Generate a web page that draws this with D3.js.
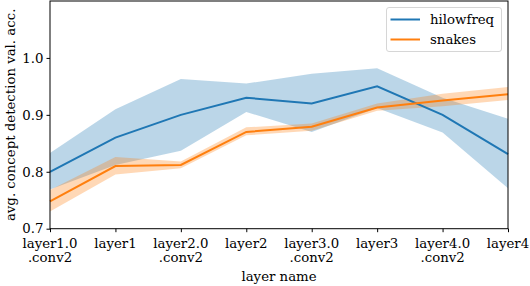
<!DOCTYPE html>
<html><head><meta charset="utf-8">
<script src="https://cdn.jsdelivr.net/npm/d3@7"></script>
<style>body{margin:0;background:#fff}svg{display:block}text{font-family:"DejaVu Serif",serif}</style>
</head><body><svg id="c" width="530" height="286"></svg>
<script>
const categories = ["layer1.0\n.conv2","layer1","layer2.0\n.conv2","layer2","layer3.0\n.conv2","layer3","layer4.0\n.conv2","layer4"];
const hilowfreq      = [0.800, 0.860, 0.900, 0.930, 0.920, 0.950, 0.900, 0.831];
const hilowfreqLower = [0.769, 0.812, 0.837, 0.905, 0.870, 0.912, 0.869, 0.771];
const hilowfreqUpper = [0.833, 0.910, 0.963, 0.955, 0.972, 0.982, 0.930, 0.893];
const snakes      = [0.748, 0.810, 0.812, 0.870, 0.879, 0.913, 0.925, 0.936];
const snakesLower = [0.730, 0.795, 0.806, 0.864, 0.872, 0.907, 0.915, 0.926];
const snakesUpper = [0.768, 0.826, 0.818, 0.878, 0.885, 0.920, 0.937, 0.949];
const yTicks = [0.7, 0.8, 0.9, 1.0];
const seriesNames = ["hilowfreq","snakes"];
const colors = ["#1f77b4","#ff7f0e"];

const FS = 13.3;
const svg = d3.select("#c");
const L=50, R=508, T=1, B=228.7;
const x = d3.scalePoint().domain(d3.range(categories.length)).range([L,R]);
const y = d3.scaleLinear().domain([0.7,1.1]).range([B,T]);

const series = [
  {name:seriesNames[0], m:hilowfreq, lo:hilowfreqLower, hi:hilowfreqUpper, c:colors[0]},
  {name:seriesNames[1], m:snakes, lo:snakesLower, hi:snakesUpper, c:colors[1]}
];
const area = d3.area().x((d,i)=>x(i));
const line = d3.line().x((d,i)=>x(i)).y(d=>y(d));
series.forEach(s=>{
  svg.append("path").datum(s.m)
    .attr("d", area.y0((d,i)=>y(s.lo[i])).y1((d,i)=>y(s.hi[i])))
    .attr("fill", s.c).attr("fill-opacity",0.3).attr("stroke","none");
});
series.forEach(s=>{
  svg.append("path").datum(s.m).attr("d",line).attr("fill","none")
    .attr("stroke",s.c).attr("stroke-width",2);
});

svg.append("rect").attr("x",L).attr("y",T).attr("width",R-L).attr("height",B-T)
  .attr("fill","none").attr("stroke","#000").attr("stroke-width",1);

const ya = svg.append("g").attr("transform",`translate(${L},0)`)
  .call(d3.axisLeft(y).tickValues(yTicks).tickFormat(d3.format(".1f")).tickSize(3.5).tickPadding(3));
ya.select(".domain").remove();
ya.selectAll("text").attr("font-size",FS).attr("fill","#000").attr("font-family","DejaVu Serif");

const xa = svg.append("g").attr("transform",`translate(0,${B})`)
  .call(d3.axisBottom(x).tickSize(3.5).tickFormat(""));
xa.select(".domain").remove();
categories.forEach((c,i)=>{
  const t = svg.append("text").attr("text-anchor","middle").attr("font-size",FS).attr("fill","#000");
  c.split("\n").forEach((ln,j)=>{
    t.append("tspan").attr("x",x(i)).attr("y",B+19.5+j*14).text(ln);
  });
});

svg.append("text").attr("x",(L+R)/2).attr("y",281).attr("text-anchor","middle")
  .attr("font-size",FS).text("layer name");
svg.append("text").attr("transform",`translate(15,${(T+B)/2}) rotate(-90)`)
  .attr("text-anchor","middle").attr("font-size",FS).text("avg. concept detection val. acc.");

const lg = svg.append("g");
lg.append("rect").attr("x",386.5).attr("y",7.5).attr("width",115).attr("height",44)
  .attr("rx",2.5).attr("fill","#fff").attr("fill-opacity",0.8).attr("stroke","#ccc").attr("stroke-width",0.8);
series.forEach((s,i)=>{
  const yy = 19.5 + i*20;
  lg.append("line").attr("x1",390.5).attr("x2",420).attr("y1",yy).attr("y2",yy)
    .attr("stroke",s.c).attr("stroke-width",2);
  lg.append("text").attr("x",430).attr("y",yy+4.5).attr("font-size",FS).text(s.name);
});
</script></body></html>
